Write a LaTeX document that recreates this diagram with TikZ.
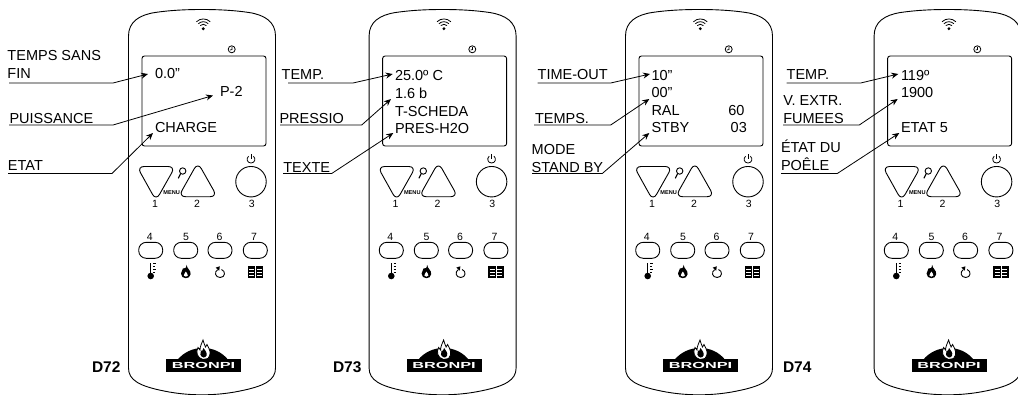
\documentclass[tikz,border=0pt]{standalone}
\usepackage{fontspec}
\usepackage{graphicx}
\setmainfont{Liberation Sans}
\usetikzlibrary{arrows.meta}
\tikzset{
  body/.style={draw=black,line width=0.9pt,line join=round},
  txt/.style={inner sep=0pt,outer sep=0pt,anchor=base west,font=\fontsize{14.5}{16}\selectfont,text=black},
  num/.style={inner sep=0pt,outer sep=0pt,anchor=base,font=\fontsize{10.5}{12}\selectfont,text=black},
  tag/.style={inner sep=0pt,outer sep=0pt,anchor=base west,font=\fontsize{15.5}{17}\selectfont\bfseries,text=black},
  menu/.style={inner sep=0pt,outer sep=0pt,anchor=base,font=\fontsize{5.6}{6}\selectfont\bfseries,text=black},
  softkey/.style={draw=black,line width=0.9pt,rounded corners=7.6pt,minimum width=24pt,minimum height=16pt,inner sep=0pt,outer sep=0pt},
  roundkey/.style={draw=black,line width=0.9pt,circle,minimum size=30.5pt,inner sep=0pt,outer sep=0pt},
  lead/.style={draw=black,line width=0.8pt,-{Stealth[length=7pt,width=6pt]}},
}
\newcommand\rlead[6]{% name, x0, x1, y, tipx, tipy
  \coordinate (#1-a) at (#2,#4);
  \coordinate (#1-b) at (#3,#4);
  \coordinate (#1-c) at (#5,#6);
  \draw[lead] (#1-a) -- (#1-b) -- (#1-c);
}
\newcommand\remote[2]{%
\begin{scope}[shift={(#2,0)}]
  % casing
  \draw[body] (128.5,36) .. controls (128.5,22) and (139,15) .. (155,12.5)
     .. controls (170,10.3) and (185,9.5) .. (202,9.5)
     .. controls (219,9.5) and (234,10.3) .. (249,12.5)
     .. controls (265,15) and (275.5,22) .. (275.5,36)
     -- (275.5,368) .. controls (275.5,380) and (265,386) .. (240,391)
     .. controls (228,393.5) and (215,394.8) .. (202,394.8)
     .. controls (189,394.8) and (176,393.5) .. (164,391)
     .. controls (139,386) and (128.5,380) .. (128.5,368) -- cycle;
  % signal
  \fill (203.3,28.7) circle (1.6);
  \draw[line width=0.8pt] (200.2,25.6) arc (225:315:4.4);
  \draw[line width=0.8pt] (198.35,23.75) arc (225:315:7);
  \draw[line width=0.8pt] (196.4,21.8) arc (225:315:9.8);
  % clock
  \draw[line width=0.8pt] (231.7,49.3) circle (3.5);
  \draw[line width=0.7pt] (231.9,47) -- (231.9,49.6) -- (230,50);
  % screen
  \draw[body,rounded corners=2.5pt] (142,56) rectangle (266,146);
  % keys
  \draw[body,rounded corners=7pt] (137,166.5) -- (175.3,166.5) -- (156,200.6) -- cycle;
  \draw[body,rounded corners=7pt] (178.5,196.7) -- (217.2,196.7) -- (197.8,162.4) -- cycle;
  \node[roundkey] (#1-k3) at (251,181.7) {};
  % power glyph
  \draw[line width=0.8pt] (248.6,156.2) .. controls (245.8,158.6) and (247.2,163) .. (251,163) .. controls (254.8,163) and (256.2,158.6) .. (253.4,156.2);
  \draw[line width=0.8pt] (251,154.2) -- (251,159);
  % magnifier
  \draw[line width=0.9pt] (182.7,171) circle (3.2);
  \draw[line width=1.1pt] (180.6,173.6) -- (178.3,178.3);
  \node[menu] (#1-menu) at (171.7,194) {MENU};
  \node[num] (#1-n1) at (155,207.8) {1};
  \node[num] (#1-n2) at (197,207.8) {2};
  \node[num] (#1-n3) at (251.7,207.8) {3};
  \node[num] (#1-n4) at (149.7,240) {4};
  \node[num] (#1-n5) at (186,240) {5};
  \node[num] (#1-n6) at (219.5,240) {6};
  \node[num] (#1-n7) at (254,240) {7};
  \node[softkey] (#1-k4) at (150.7,250.3) {};
  \node[softkey] (#1-k5) at (185.7,250.3) {};
  \node[softkey] (#1-k6) at (220,250.3) {};
  \node[softkey] (#1-k7) at (255.3,250.3) {};
  % thermometer
  \fill (150.7,276) circle (3.3);
  \draw[line width=0.9pt] (150.7,276) -- (150.7,263);
  \draw[line width=0.7pt] (153,263.5) -- (155.5,263.5) (153,266.5) -- (155,266.5) (153,269.5) -- (155.5,269.5) (153,272.5) -- (155,272.5);
  % flame
  \fill (186.5,264.8) .. controls (187,269) and (191,270) .. (190.6,274.2)
    .. controls (190.4,277) and (188,278.2) .. (185.7,278.2)
    .. controls (183,278.2) and (181,276.4) .. (181,273.5)
    .. controls (181,271) and (183,270.5) .. (183,268.3)
    .. controls (184.5,269.5) and (186.5,268) .. (186.5,264.8) -- cycle;
  \fill[white] (185.8,271.5) .. controls (186.3,273) and (188.2,274) .. (187.8,275.6)
    .. controls (187.5,277) and (184.3,277) .. (183.8,275.6)
    .. controls (183.5,274) and (185.3,273.5) .. (185.8,271.5) -- cycle;
  % cycle arrow
  \draw[line width=0.9pt] (217.7,269.6) .. controls (213.8,272) and (215.3,277.5) .. (220.2,277.5) .. controls (225.2,277.5) and (226,271) .. (221.5,269.5);
  \fill (215.7,267.6) -- (219.8,266.3) -- (219.2,270.7) -- cycle;
  % book
  \fill (247.7,266) rectangle (263.3,277.7);
  \draw[white,line width=0.5pt] (255.5,266) -- (255.5,277.7);
  \draw[white,line width=0.6pt] (249.2,269.2) -- (254.2,269.2) (249.2,272) -- (254.2,272) (249.2,274.8) -- (254.2,274.8)
     (256.8,269.2) -- (261.8,269.2) (256.8,272) -- (261.8,272) (256.8,274.8) -- (261.8,274.8);
  % logo
  \fill (177.3,360) .. controls (184,352) and (193,348) .. (203,348) .. controls (213,348) and (222,352) .. (228.3,360) -- cycle;
  \draw[fill=white,line width=0.8pt] (203,359.5) .. controls (197,358) and (195.5,352) .. (198,347.5)
     .. controls (198.6,349) and (199.5,349.5) .. (200,350)
     .. controls (200,346) and (202,343) .. (203,340)
     .. controls (203.5,343) and (205,345) .. (205.5,347)
     .. controls (206,346.5) and (206.5,346) .. (207,344.5)
     .. controls (209.5,349) and (212,354) .. (208,358.5) -- cycle;
  \fill (203.5,357.5) .. controls (200,356.5) and (199.5,353) .. (201,350.5)
     .. controls (202,352) and (203,350) .. (203.5,348)
     .. controls (205,350) and (207.5,353) .. (206.5,355.5) .. controls (206,356.8) and (205,357.5) .. (203.5,357.5) -- cycle;
  \fill (166,359.3) rectangle (241,371.7);
  \node[inner sep=0pt,outer sep=0pt,text=white,font=\fontsize{8.8}{10}\selectfont\bfseries] (#1-logo) at (203.5,365.5) {\scalebox{1.85}[1]{BRONPI}};
\end{scope}}
\begin{document}
\begin{tikzpicture}[x=1pt,y=-1pt]
\clip (0,0) rectangle (1018,394);
\remote{a}{0}
\remote{b}{240.6}
\remote{c}{497}
\remote{d}{745.6}
% panel 1
\node[txt] (a1) at (7.5,60.7) {TEMPS SANS};
\node[txt] (a2) at (7.5,78.7) {FIN};
\node[txt] (a3) at (9.5,123) {PUISSANCE};
\node[txt] (a4) at (8,170) {ETAT};
\node[txt] (av1) at (155,78.7) {0.0”};
\node[txt] (av2) at (220,96.7) {P-2};
\node[txt] (av3) at (155,132) {CHARGE};
\rlead{la1}{9}{113}{83}{148}{74}
\rlead{la2}{9}{113}{125}{213}{95.5}
\rlead{la3}{8}{112}{173.5}{153}{133}
\node[tag] (d72) at (92,372.5) {D72};
% panel 2
\node[txt] (b1) at (281.7,79.3) {TEMP.};
\node[txt] (b2) at (279.5,123) {PRESSIO};
\node[txt] (b3) at (283.3,172) {TEXTE};
\node[txt] (bv1) at (395,80) {25.0º C};
\node[txt] (bv2) at (395,98) {1.6 b};
\node[txt] (bv3) at (395,116) {T-SCHEDA};
\node[txt] (bv4) at (395,133) {PRES-H2O};
\rlead{lb1}{288}{353}{83}{392.7}{74}
\rlead{lb2}{280}{361.7}{125}{391}{99}
\rlead{lb3}{283}{331.7}{173.5}{393.3}{133}
\node[tag] (d73) at (333,372.5) {D73};
% panel 3
\node[txt] (c1) at (537.7,79.3) {TIME-OUT};
\node[txt] (c2) at (535,123) {TEMPS.};
\node[txt] (c3) at (531.7,154) {MODE};
\node[txt] (c4) at (531.7,172) {STAND BY};
\node[txt] (cv1) at (651.5,80) {10”};
\node[txt] (cv2) at (651.5,97.5) {00”};
\node[txt] (cv3) at (651.5,115.5) {RAL};
\node[txt] (cv4) at (728.3,115.5) {60};
\node[txt] (cv5) at (651.5,132.7) {STBY};
\node[txt] (cv6) at (730.7,132.7) {03};
\rlead{lc1}{537.7}{610.7}{83}{650}{74}
\rlead{lc2}{534}{610.7}{125}{649.3}{99}
\rlead{lc3}{532}{602.3}{173.5}{649.3}{133}
% panel 4
\node[txt] (d1) at (786.7,79.3) {TEMP.};
\node[txt] (d2) at (783.3,105) {V. EXTR.};
\node[txt] (d3) at (783.3,123.3) {FUMEES};
\node[txt] (d4) at (781,152.7) {ÉTAT DU};
\node[txt] (d5) at (781,170) {POÊLE};
\node[txt] (dv1) at (901,80) {119º};
\node[txt] (dv2) at (901,97) {1900};
\node[txt] (dv3) at (901,132.7) {ETAT 5};
\rlead{ld1}{786.7}{860.7}{83}{898.3}{74}
\rlead{ld2}{783}{859.3}{125}{897.7}{99}
\rlead{ld3}{781}{837.3}{173.5}{899.3}{133}
\node[tag] (d74) at (783,372.5) {D74};
\end{tikzpicture}
\end{document}
